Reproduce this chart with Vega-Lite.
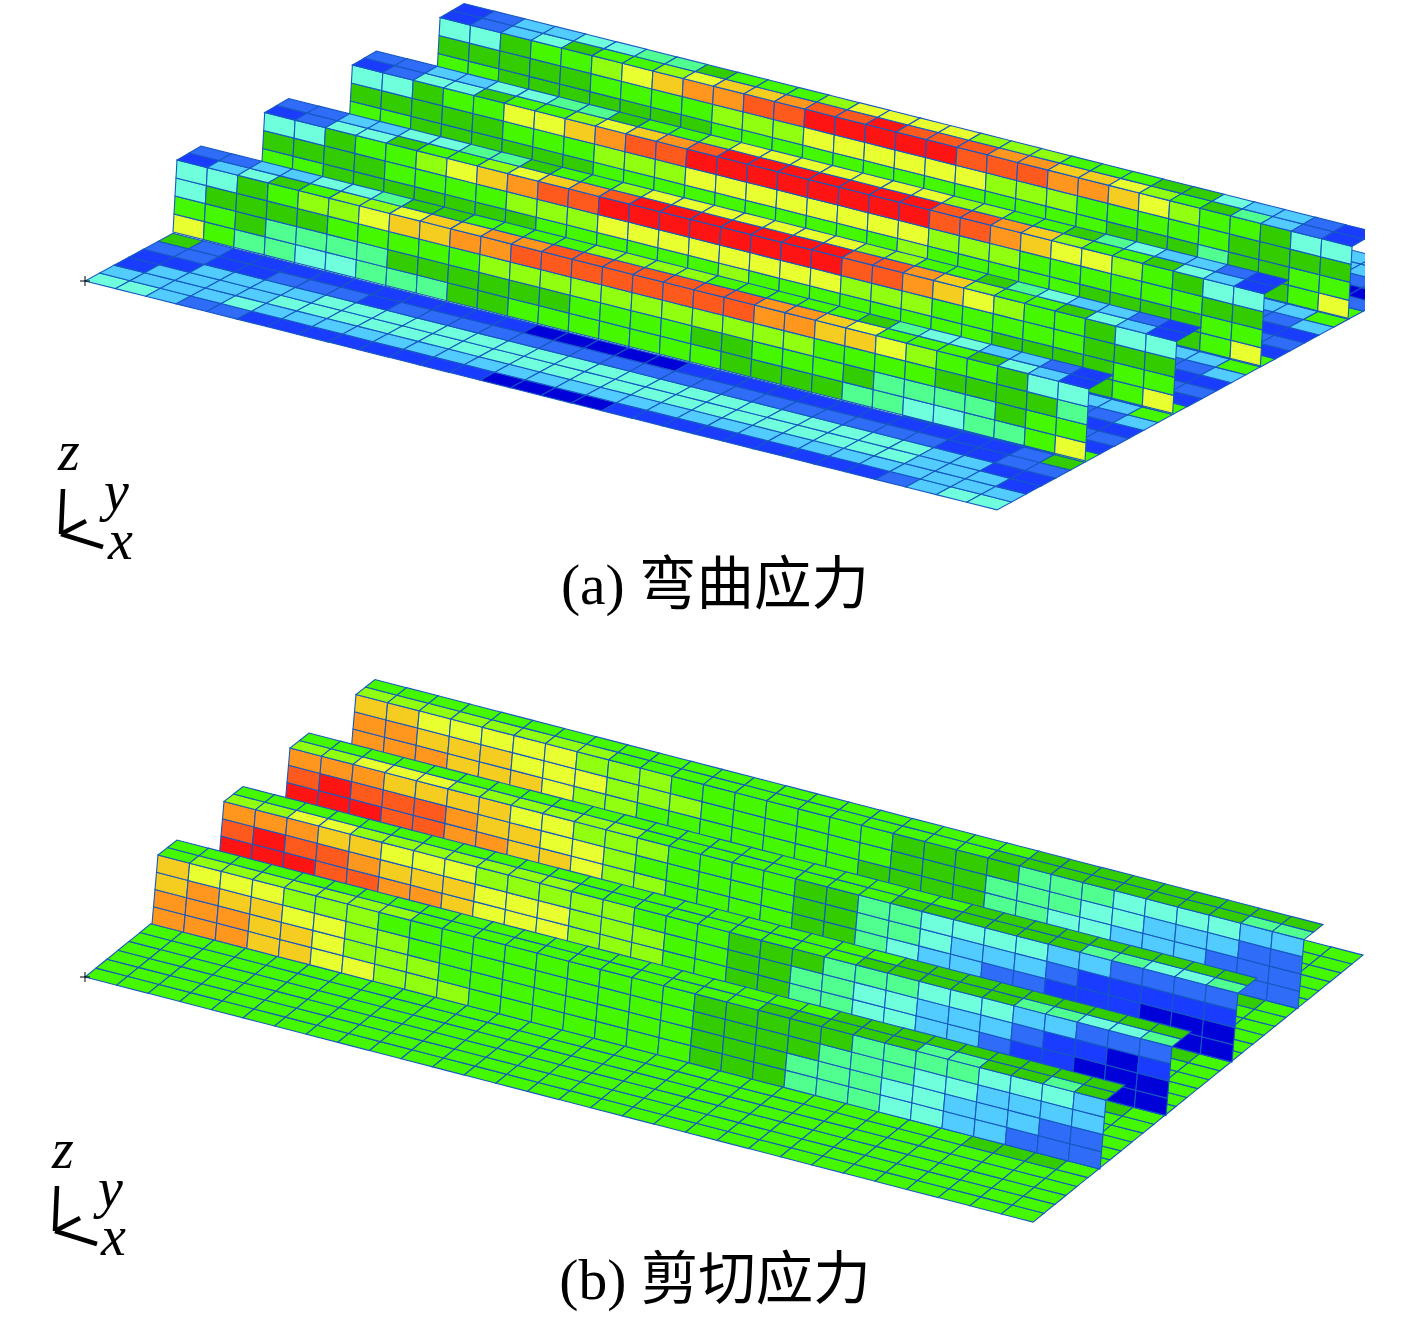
{"$schema":"https://vega.github.io/schema/vega-lite/v6.json","width":1365,"height":1317,"padding":0,"autosize":{"type":"none"},"background":"white","view":{"stroke":null},
"layer":[
{"data":{"values":[
{"p":"a","k":"f","n":0,"r":0,"s":0,"v":[4,4,3,2,2,1,1,1,1,1,1,1,1,0,0,0,0,1,1,1,1,1,1,1,1,1,2,3,4,4]},
{"p":"a","k":"f","n":0,"r":1,"s":0,"v":[3,3,3,3,4,3,3,3,3,3,3,3,3,3,3,3,3,3,3,3,3,3,3,3,3,3,3,3,3,3]},
{"p":"a","k":"f","n":0,"r":2,"s":0,"v":[1,3,3,3,3,4,4,4,4,4,4,4,4,4,4,4,4,4,4,4,4,4,4,4,4,4,3,3,3,1]},
{"p":"a","k":"f","n":0,"r":3,"s":0,"v":[1,1,3,3,3,3,4,4,4,4,4,4,4,4,4,4,4,4,4,4,4,4,4,4,4,4,3,3,1,1]},
{"p":"a","k":"f","n":0,"r":4,"s":0,"v":[2,2,1,1,2,2,2,1,2,2,2,2,2,2,2,2,2,2,2,2,2,2,2,2,2,2,1,1,2,2]},
{"p":"a","k":"f","n":0,"r":5,"s":0,"v":[6,2,1,1,1,1,1,1,1,1,1,1,0,0,0,0,0,1,1,1,1,1,1,1,1,1,1,1,2,6]},
{"p":"a","k":"f","n":0,"r":6,"s":24,"v":[1,1,1,1,1,7]},{"p":"a","k":"f","n":0,"r":7,"s":24,"v":[2,2,2,2,1,1]},{"p":"a","k":"f","n":0,"r":8,"s":24,"v":[2,2,2,2,2,2]},{"p":"a","k":"f","n":0,"r":9,"s":24,"v":[1,1,1,1,1,1]},{"p":"a","k":"f","n":0,"r":10,"s":24,"v":[2,2,2,2,2,3]},{"p":"a","k":"f","n":0,"r":11,"s":24,"v":[3,3,3,3,3,7]},
{"p":"a","k":"f","n":0,"r":12,"s":24,"v":[1,1,1,1,1,7]},{"p":"a","k":"f","n":0,"r":13,"s":24,"v":[2,2,2,2,1,1]},{"p":"a","k":"f","n":0,"r":14,"s":24,"v":[2,2,2,2,2,2]},{"p":"a","k":"f","n":0,"r":15,"s":24,"v":[1,1,1,1,1,1]},{"p":"a","k":"f","n":0,"r":16,"s":24,"v":[2,2,2,2,2,3]},{"p":"a","k":"f","n":0,"r":17,"s":24,"v":[3,3,3,3,3,7]},
{"p":"a","k":"f","n":0,"r":18,"s":24,"v":[1,1,1,1,1,7]},{"p":"a","k":"f","n":0,"r":19,"s":24,"v":[2,2,2,2,1,1]},{"p":"a","k":"f","n":0,"r":20,"s":24,"v":[2,2,2,2,2,2]},{"p":"a","k":"f","n":0,"r":21,"s":24,"v":[1,1,1,1,1,1]},{"p":"a","k":"f","n":0,"r":22,"s":24,"v":[2,2,2,2,2,3]},{"p":"a","k":"f","n":0,"r":23,"s":24,"v":[3,3,3,3,3,7]},
{"p":"a","k":"f","n":0,"r":24,"s":24,"v":[1,1,1,1,1,7]},{"p":"a","k":"f","n":0,"r":25,"s":24,"v":[2,2,2,2,2,2]},{"p":"a","k":"f","n":0,"r":26,"s":24,"v":[1,1,1,0,0,0]},{"p":"a","k":"f","n":0,"r":27,"s":24,"v":[2,2,2,2,2,2]},{"p":"a","k":"f","n":0,"r":28,"s":24,"v":[3,3,3,3,3,3]},{"p":"a","k":"f","n":0,"r":29,"s":24,"v":[3,3,3,3,3,3]},

{"p":"a","k":"w","n":3,"r":0,"s":27,"v":[6,7,9]},
{"p":"a","k":"w","n":3,"r":1,"s":0,"v":[7,7,6,6,6,6,6,6,6,7,7,7,7,7,7,7,7,7,7,7,7,7,6,6,6,5,6,6,7,7]},
{"p":"a","k":"w","n":3,"r":2,"s":0,"v":[6,6,6,6,6,7,7,7,7,8,8,8,9,9,9,9,9,9,8,8,8,7,7,7,7,7,6,6,6,6]},
{"p":"a","k":"w","n":3,"r":3,"s":0,"v":[4,4,6,7,7,8,9,10,11,11,12,12,13,13,13,13,13,12,12,12,11,11,10,9,8,7,7,6,4,4]},
{"p":"a","k":"t","n":3,"r":0,"s":0,"v":[1,2,3,4,6,7,7,8,9,10,10,11,12,12,13,12,12,12,11,11,10,10,9,8,7,6,5,3,2,1]},
{"p":"a","k":"t","n":3,"r":1,"s":0,"v":[1,2,3,3,4,4,5,5,6,7,7,7,8,9,9,9,9,8,8,8,7,7,7,6,6,4,3,3,2,1]},
{"p":"a","k":"w","n":2,"r":0,"s":27,"v":[6,7,9]},
{"p":"a","k":"w","n":2,"r":1,"s":0,"v":[7,7,6,6,6,6,6,6,7,7,7,7,7,7,7,7,7,7,8,7,7,7,7,7,6,6,6,6,7,7]},
{"p":"a","k":"w","n":2,"r":2,"s":0,"v":[6,6,6,6,6,7,7,7,8,8,8,9,9,9,9,9,9,9,9,8,8,8,7,7,7,7,7,7,6,6]},
{"p":"a","k":"w","n":2,"r":3,"s":0,"v":[4,4,6,7,7,9,9,10,11,12,12,13,13,13,13,13,13,13,13,12,12,11,10,9,9,8,7,6,4,4]},
{"p":"a","k":"t","n":2,"r":0,"s":0,"v":[1,2,4,4,6,7,7,8,9,10,11,12,13,13,13,13,13,13,13,12,12,11,10,8,7,7,6,4,3,1]},
{"p":"a","k":"t","n":2,"r":1,"s":0,"v":[2,2,3,3,4,4,5,5,6,7,7,8,9,9,9,9,9,9,9,8,8,7,7,6,5,4,3,3,2,1]},
{"p":"a","k":"w","n":1,"r":0,"s":27,"v":[6,7,9]},
{"p":"a","k":"w","n":1,"r":1,"s":0,"v":[7,7,6,6,6,6,6,6,6,7,7,7,7,7,7,8,7,7,7,7,7,7,7,7,6,6,6,6,7,7]},
{"p":"a","k":"w","n":1,"r":2,"s":0,"v":[6,6,6,6,7,7,7,7,8,8,8,9,9,9,9,9,9,9,9,8,8,8,7,7,7,7,7,6,6,6]},
{"p":"a","k":"w","n":1,"r":3,"s":0,"v":[4,4,6,7,7,8,9,10,11,12,12,13,13,13,13,13,13,13,13,12,12,11,10,9,8,7,7,6,4,4]},
{"p":"a","k":"t","n":1,"r":0,"s":0,"v":[1,2,4,4,6,7,7,8,9,10,11,12,13,13,13,13,13,13,13,12,12,11,10,8,7,7,6,4,3,1]},
{"p":"a","k":"t","n":1,"r":1,"s":0,"v":[2,2,3,3,4,4,5,5,6,7,7,8,9,9,9,9,9,9,9,8,8,7,7,6,5,4,3,3,2,1]},
{"p":"a","k":"w","n":0,"r":0,"s":0,"v":[9,7,5,5,4,4,5,5,5,6,6,7,7,7,7,7,7,7,6,6,6,6,5,5,4,4,5,5,7,9]},
{"p":"a","k":"w","n":0,"r":1,"s":0,"v":[7,7,6,5,5,5,5,6,6,6,6,6,6,7,7,7,7,6,6,7,7,7,6,5,5,5,5,6,7,7]},
{"p":"a","k":"w","n":0,"r":2,"s":0,"v":[4,6,6,6,6,7,7,7,7,7,8,8,8,8,8,8,8,8,8,8,8,7,7,7,7,6,6,6,6,5]},
{"p":"a","k":"w","n":0,"r":3,"s":0,"v":[4,4,6,7,8,8,9,10,10,11,11,12,12,12,12,12,12,12,12,11,11,10,10,9,8,7,7,6,4,4]},
{"p":"a","k":"t","n":0,"r":0,"s":0,"v":[1,3,4,6,7,8,8,9,10,10,11,11,12,12,12,12,12,12,12,11,11,10,9,7,7,7,6,4,3,1]},
{"p":"a","k":"t","n":0,"r":1,"s":0,"v":[2,2,3,3,4,4,5,6,6,7,7,7,7,8,8,8,8,7,7,7,7,7,6,5,4,4,3,3,2,1]},

{"p":"b","k":"f","n":0,"r":0,"s":0,"v":[7,7,7,7,7,7,7,7,7,7,7,7,7,7,7,7,7,7,7,7,7,7,7,7,7,7,7,7,7,7]},
{"p":"b","k":"f","n":0,"r":1,"s":0,"v":[7,7,7,7,7,7,7,7,7,7,7,7,7,7,7,7,7,7,7,7,7,7,7,7,7,7,7,7,7,7]},
{"p":"b","k":"f","n":0,"r":2,"s":0,"v":[7,7,7,7,7,7,7,7,7,7,7,7,7,7,7,7,7,7,7,7,7,7,7,7,7,7,7,7,7,7]},
{"p":"b","k":"f","n":0,"r":3,"s":0,"v":[7,7,7,7,7,7,7,7,7,7,7,7,7,7,7,7,7,7,7,7,7,7,7,7,7,7,7,7,7,7]},
{"p":"b","k":"f","n":0,"r":4,"s":0,"v":[7,7,7,7,7,7,7,7,7,7,7,7,7,7,7,7,7,7,7,7,7,7,7,7,7,7,7,7,7,7]},
{"p":"b","k":"f","n":0,"r":5,"s":0,"v":[7,7,7,7,7,7,7,7,7,7,7,7,7,7,7,7,7,7,7,7,7,7,7,7,7,7,6,6,6,7]},
{"p":"b","k":"f","n":0,"r":6,"s":24,"v":[7,7,7,7,7,7]},{"p":"b","k":"f","n":0,"r":7,"s":24,"v":[7,7,7,7,7,7]},{"p":"b","k":"f","n":0,"r":8,"s":24,"v":[7,7,7,7,7,7]},{"p":"b","k":"f","n":0,"r":9,"s":24,"v":[7,7,7,7,7,7]},{"p":"b","k":"f","n":0,"r":10,"s":24,"v":[7,7,7,7,7,7]},{"p":"b","k":"f","n":0,"r":11,"s":24,"v":[7,7,6,6,6,7]},
{"p":"b","k":"f","n":0,"r":12,"s":24,"v":[7,7,7,7,7,7]},{"p":"b","k":"f","n":0,"r":13,"s":24,"v":[7,7,7,7,7,7]},{"p":"b","k":"f","n":0,"r":14,"s":24,"v":[7,7,7,7,7,7]},{"p":"b","k":"f","n":0,"r":15,"s":24,"v":[7,7,7,7,7,7]},{"p":"b","k":"f","n":0,"r":16,"s":24,"v":[7,7,7,7,7,7]},{"p":"b","k":"f","n":0,"r":17,"s":24,"v":[7,7,6,6,6,7]},
{"p":"b","k":"f","n":0,"r":18,"s":24,"v":[7,7,7,7,7,7]},{"p":"b","k":"f","n":0,"r":19,"s":24,"v":[7,7,7,7,7,7]},{"p":"b","k":"f","n":0,"r":20,"s":24,"v":[7,7,7,7,7,7]},{"p":"b","k":"f","n":0,"r":21,"s":24,"v":[7,7,7,7,7,7]},{"p":"b","k":"f","n":0,"r":22,"s":24,"v":[7,7,7,7,7,7]},{"p":"b","k":"f","n":0,"r":23,"s":24,"v":[7,7,6,6,6,7]},
{"p":"b","k":"f","n":0,"r":24,"s":24,"v":[7,7,7,7,7,7]},{"p":"b","k":"f","n":0,"r":25,"s":24,"v":[7,7,7,7,7,7]},{"p":"b","k":"f","n":0,"r":26,"s":24,"v":[7,7,7,7,7,7]},{"p":"b","k":"f","n":0,"r":27,"s":24,"v":[7,7,7,7,7,7]},{"p":"b","k":"f","n":0,"r":28,"s":24,"v":[7,7,7,7,7,7]},{"p":"b","k":"f","n":0,"r":29,"s":24,"v":[7,7,7,7,7,7]},

{"p":"b","k":"w","n":3,"r":0,"s":27,"v":[2,2,2]},
{"p":"b","k":"w","n":3,"r":1,"s":0,"v":[11,11,11,10,10,10,9,8,8,7,7,7,7,7,7,7,6,6,6,6,5,5,4,4,3,3,3,2,2,2]},
{"p":"b","k":"w","n":3,"r":2,"s":0,"v":[11,11,10,10,10,9,9,9,8,8,8,7,7,7,7,7,7,6,6,6,5,5,5,4,4,3,3,3,2,2]},
{"p":"b","k":"w","n":3,"r":3,"s":0,"v":[10,10,9,9,9,9,9,8,8,8,7,7,7,7,7,7,7,6,6,6,6,5,5,5,4,4,4,4,3,3]},
{"p":"b","k":"t","n":3,"r":0,"s":0,"v":[8,8,8,8,8,8,8,8,7,7,7,7,7,7,7,7,7,7,7,7,6,6,6,6,6,6,6,6,5,5]},
{"p":"b","k":"t","n":3,"r":1,"s":0,"v":[7,7,7,7,7,7,7,7,7,7,7,7,7,7,7,7,7,7,7,7,7,6,6,6,6,6,6,6,6,6]},
{"p":"b","k":"w","n":2,"r":0,"s":27,"v":[0,0,0]},
{"p":"b","k":"w","n":2,"r":1,"s":0,"v":[13,13,13,12,12,11,11,10,10,9,8,8,7,7,7,7,6,6,5,4,3,3,2,2,1,1,1,0,0,0]},
{"p":"b","k":"w","n":2,"r":2,"s":0,"v":[12,13,12,12,12,11,10,10,9,9,8,7,7,7,7,7,6,6,5,5,4,3,3,3,2,1,1,1,1,1]},
{"p":"b","k":"w","n":2,"r":3,"s":0,"v":[11,11,11,10,10,10,10,9,9,8,8,8,7,7,7,7,6,6,5,5,4,4,4,4,3,3,2,2,2,2]},
{"p":"b","k":"t","n":2,"r":0,"s":0,"v":[8,8,9,9,9,8,8,8,8,8,8,7,7,7,7,7,7,7,7,6,6,6,6,6,6,5,5,4,4,5]},
{"p":"b","k":"t","n":2,"r":1,"s":0,"v":[7,7,7,7,7,7,7,7,7,7,7,7,7,7,7,7,7,7,7,7,7,6,6,6,6,6,6,6,6,6]},
{"p":"b","k":"w","n":1,"r":0,"s":27,"v":[0,0,0]},
{"p":"b","k":"w","n":1,"r":1,"s":0,"v":[13,13,13,12,12,11,11,10,9,9,9,8,8,8,7,7,6,6,5,5,4,4,3,3,2,1,1,0,0,0]},
{"p":"b","k":"w","n":1,"r":2,"s":0,"v":[12,13,12,12,11,10,10,10,9,9,9,8,8,8,7,7,6,6,5,5,4,4,3,3,3,2,1,1,0,1]},
{"p":"b","k":"w","n":1,"r":3,"s":0,"v":[11,11,11,10,10,9,9,9,8,8,8,8,8,7,7,7,6,6,6,5,5,5,4,4,4,3,3,2,2,2]},
{"p":"b","k":"t","n":1,"r":0,"s":0,"v":[8,8,9,9,8,8,8,8,8,8,8,7,7,7,7,7,7,7,7,7,6,6,6,6,6,5,5,4,4,5]},
{"p":"b","k":"t","n":1,"r":1,"s":0,"v":[7,7,7,7,7,7,7,7,7,7,7,7,7,7,7,7,7,7,7,7,7,6,6,6,6,6,6,6,6,6]},
{"p":"b","k":"w","n":0,"r":0,"s":0,"v":[11,11,11,10,10,9,9,8,8,8,7,7,7,7,7,7,7,6,6,6,5,5,5,4,4,3,3,2,2,2]},
{"p":"b","k":"w","n":0,"r":1,"s":0,"v":[11,11,11,10,10,9,8,8,8,7,7,7,7,7,7,7,7,6,6,6,5,5,5,4,4,3,3,3,2,2]},
{"p":"b","k":"w","n":0,"r":2,"s":0,"v":[10,11,10,10,9,9,8,8,7,7,7,7,7,7,7,7,7,6,6,6,6,5,5,5,4,4,3,3,3,3]},
{"p":"b","k":"w","n":0,"r":3,"s":0,"v":[10,9,9,9,8,8,8,7,7,7,7,7,7,7,7,7,7,6,6,6,6,6,5,5,5,5,4,4,4,3]},
{"p":"b","k":"t","n":0,"r":0,"s":0,"v":[7,8,8,8,8,8,8,8,7,7,7,7,7,7,7,7,7,7,7,6,6,6,6,6,5,5,6,6,5,6]},
{"p":"b","k":"t","n":0,"r":1,"s":0,"v":[7,7,7,7,7,7,7,7,7,7,7,7,7,7,7,7,7,7,7,7,7,6,6,6,6,6,6,6,6,6]}
]},
"transform":[
{"flatten":["v"]},
{"window":[{"op":"row_number","as":"w"}],"groupby":["p","k","n","r"]},
{"calculate":"datum.s+datum.w-1","as":"i"},
{"calculate":"datum.p=='a'?30.4:31.6","as":"ax"},
{"calculate":"datum.p=='a'?7.63:8.17","as":"ay"},
{"calculate":"datum.k=='f'?(datum.p=='a'?14.65:11):datum.k=='w'?(datum.p=='a'?1:1.5):(datum.p=='a'?12:9.5)","as":"vx"},
{"calculate":"datum.k=='f'?(datum.p=='a'?-7.95:-8.9):datum.k=='w'?(datum.p=='a'?-18:-17.25):(datum.p=='a'?-7:-7.5)","as":"vy"},
{"calculate":"datum.k=='f'?0:(datum.p=='a'?88+87.7*datum.n:67+66*datum.n)+(datum.k=='t'?(datum.p=='a'?4:6):0)","as":"ox"},
{"calculate":"datum.k=='f'?0:(datum.p=='a'?-49-47.5*datum.n:-53-53.5*datum.n)+(datum.k=='t'?(datum.p=='a'?-72:-69):0)","as":"oy"},
{"calculate":"85+datum.ox+datum.i*datum.ax+datum.r*datum.vx","as":"cx"},
{"calculate":"(datum.p=='a'?281:977)+datum.oy+datum.i*datum.ay+datum.r*datum.vy","as":"cy"},
{"calculate":"'Polygon'","as":"type"},
{"calculate":"[[[datum.cx,datum.cy],[datum.cx+datum.ax,datum.cy+datum.ay],[datum.cx+datum.ax+datum.vx,datum.cy+datum.ay+datum.vy],[datum.cx+datum.vx,datum.cy+datum.vy],[datum.cx,datum.cy]]]","as":"coordinates"}
],
"mark":{"type":"geoshape","stroke":"#1558c0","strokeWidth":1.1,"clip":true},
"projection":{"type":"identity","reflectY":false,"scale":1,"translate":[0,0]},
"encoding":{"color":{"field":"v","type":"ordinal","legend":null,"scale":{"domain":[0,1,2,3,4,5,6,7,8,9,10,11,12,13],"range":["#0000d8","#1a3cff","#2f6cf8","#52ccff","#70ffdc","#50ff90","#33cc00","#45f800","#90ff10","#e8ff30","#f5cc20","#ff961e","#ff5a1e","#ff1414"]}}}},
{"data":{"values":[
{"x":80,"y":281,"x2":90,"y2":281},{"x":85,"y":276,"x2":85,"y2":286},
{"x":80,"y":977,"x2":90,"y2":977},{"x":85,"y":972,"x2":85,"y2":982}]},
"mark":{"type":"rule","color":"black","strokeWidth":1},
"encoding":{"x":{"field":"x","type":"quantitative","scale":{"domain":[0,1365],"nice":false,"zero":false},"axis":null},"y":{"field":"y","type":"quantitative","scale":{"domain":[0,1317],"reverse":true,"nice":false,"zero":false},"axis":null},"x2":{"field":"x2"},"y2":{"field":"y2"}}},
{"data":{"values":[
{"x":63,"y":489,"x2":61,"y2":534},{"x":61,"y":534,"x2":86,"y2":521},{"x":61,"y":534,"x2":103,"y2":547},
{"x":57,"y":1186,"x2":55,"y2":1231},{"x":55,"y":1231,"x2":80,"y2":1218},{"x":55,"y":1231,"x2":97,"y2":1244}]},
"mark":{"type":"rule","color":"black","strokeWidth":4.5},
"encoding":{"x":{"field":"x","type":"quantitative","scale":{"domain":[0,1365],"nice":false,"zero":false},"axis":null},"y":{"field":"y","type":"quantitative","scale":{"domain":[0,1317],"reverse":true,"nice":false,"zero":false},"axis":null},"x2":{"field":"x2"},"y2":{"field":"y2"}}},
{"data":{"values":[
{"x":58,"y":470,"t":"z"},{"x":104,"y":510,"t":"y"},{"x":108,"y":559,"t":"x"},
{"x":52,"y":1168,"t":"z"},{"x":98,"y":1207,"t":"y"},{"x":101,"y":1255,"t":"x"}]},
"mark":{"type":"text","font":"Liberation Serif","fontStyle":"italic","fontSize":56,"align":"left","baseline":"alphabetic","color":"black"},
"encoding":{"x":{"field":"x","type":"quantitative","scale":{"domain":[0,1365],"nice":false,"zero":false},"axis":null},"y":{"field":"y","type":"quantitative","scale":{"domain":[0,1317],"reverse":true,"nice":false,"zero":false},"axis":null},"text":{"field":"t"}}},
{"data":{"values":[{"x":715,"y":604,"t":"(a) 弯曲应力"},{"x":715,"y":1299,"t":"(b) 剪切应力"}]},
"mark":{"type":"text","font":"Liberation Serif, Noto Sans CJK SC","fontSize":57.5,"align":"center","baseline":"alphabetic","color":"black"},
"encoding":{"x":{"field":"x","type":"quantitative","scale":{"domain":[0,1365],"nice":false,"zero":false},"axis":null},"y":{"field":"y","type":"quantitative","scale":{"domain":[0,1317],"reverse":true,"nice":false,"zero":false},"axis":null},"text":{"field":"t"}}}
]}
